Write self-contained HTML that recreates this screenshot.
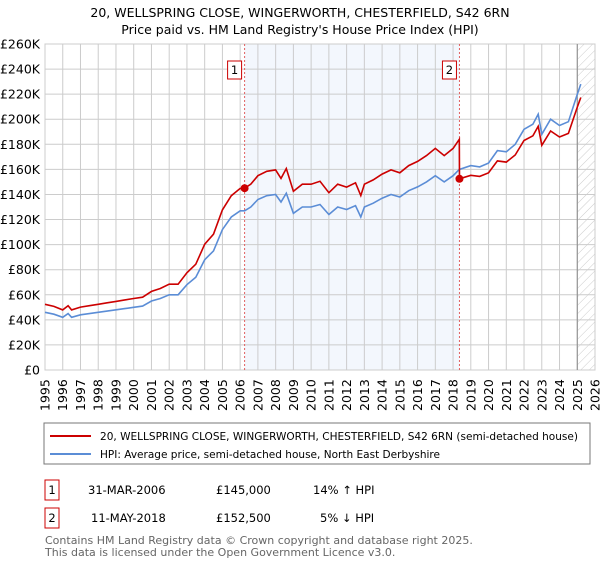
<!DOCTYPE html>
<html><head><meta charset="utf-8"><style>
body{margin:0;background:#fff;font-family:"Liberation Sans","DejaVu Sans",sans-serif;}
svg text{font-family:"DejaVu Sans","Liberation Sans",sans-serif;}
</style></head><body>
<svg id="chart" width="600" height="560" viewBox="0 0 600 560" xmlns="http://www.w3.org/2000/svg">
<defs><pattern id="hatch" width="6" height="6" patternUnits="userSpaceOnUse" patternTransform="rotate(45)"><line x1="0" y1="0" x2="0" y2="6" stroke="#ccc" stroke-width="1"/></pattern></defs>
<text x="300" y="17" text-anchor="middle" font-size="12.5" fill="#000">20, WELLSPRING CLOSE, WINGERWORTH, CHESTERFIELD, S42 6RN</text>
<text x="300" y="34" text-anchor="middle" font-size="12.5" fill="#000">Price paid vs. HM Land Registry's House Price Index (HPI)</text>
<g id="plot"></g>
<rect x="44" y="423" width="546" height="41" fill="#fff" stroke="#777"/>
<line x1="50" y1="436" x2="91" y2="436" stroke="#cc0000" stroke-width="2"/>
<text x="100" y="440" font-size="10.8" textLength="478" lengthAdjust="spacingAndGlyphs">20, WELLSPRING CLOSE, WINGERWORTH, CHESTERFIELD, S42 6RN (semi-detached house)</text>
<line x1="50" y1="454" x2="91" y2="454" stroke="#5b8dd6" stroke-width="2"/>
<text x="100" y="458" font-size="10.8" textLength="340" lengthAdjust="spacingAndGlyphs">HPI: Average price, semi-detached house, North East Derbyshire</text>
<g font-size="11.5">
<rect x="45" y="480" width="14" height="20" fill="#fff" stroke="#cc0000"/>
<text x="52" y="494" text-anchor="middle">1</text>
<text x="88" y="494">31-MAR-2006</text><text x="216" y="494">£145,000</text><text x="313" y="494">14% ↑ HPI</text>
<rect x="45" y="508" width="14" height="20" fill="#fff" stroke="#cc0000"/>
<text x="52" y="522" text-anchor="middle">2</text>
<text x="91" y="522">11-MAY-2018</text><text x="216" y="522">£152,500</text><text x="320" y="522">5% ↓ HPI</text>
</g>
<text x="45" y="544" font-size="11" fill="#666">Contains HM Land Registry data © Crown copyright and database right 2025.</text>
<text x="45" y="556" font-size="11" fill="#666">This data is licensed under the Open Government Licence v3.0.</text>
</svg>
<script>
const times=[1995.0,1995.5,1996.0,1996.3,1996.5,1997.0,1997.5,1998.0,1998.5,1999.0,1999.5,2000.0,2000.5,2001.0,2001.5,2002.0,2002.5,2003.0,2003.5,2004.0,2004.5,2005.0,2005.5,2006.0,2006.25,2006.6,2007.0,2007.5,2008.0,2008.3,2008.6,2009.0,2009.5,2010.0,2010.5,2011.0,2011.5,2012.0,2012.5,2012.8,2013.0,2013.5,2014.0,2014.5,2015.0,2015.5,2016.0,2016.5,2017.0,2017.5,2018.0,2018.35,2018.36,2019.0,2019.5,2020.0,2020.5,2021.0,2021.5,2022.0,2022.5,2022.8,2023.0,2023.5,2024.0,2024.5,2025.0,2025.2];
const hpiValues=[46,44.5,42,45,42,44,45,46,47,48,49,50,51,55,57,60,60,68,74,88,95,112,122,127,127,130,136,139,140,134,141,125,130,130,132,124,130,128,131,122,130,133,137,140,138,143,146,150,155,150,155,160,160,163,162,165,175,174,180,192,196,204,188,200,195,198,220,228];
const priceValues=[52.4,50.7,47.9,51.3,47.9,50.2,51.3,52.4,53.6,54.7,55.9,57,58.1,62.7,65,68.4,68.4,77.5,84.4,100.3,108.3,127.7,139,144.8,145,148.2,155,158.5,159.6,152.8,160.7,142.5,148.2,148.2,150.5,141.4,148.2,145.9,149.3,139.1,148.2,151.6,156.2,159.6,157.3,163,166.4,171,176.7,171,176.7,184,152.5,155.3,154.4,157.2,166.8,165.8,171.5,183,186.8,194.4,179.2,190.6,185.8,188.7,209.7,217.3];
const saleTimes=[2006.25,2018.36];
const saleValues=[145,152.5];
const saleLabels=["1","2"];
const yTicks=[0,20,40,60,80,100,120,140,160,180,200,220,240,260];
const xYears=[1995,1996,1997,1998,1999,2000,2001,2002,2003,2004,2005,2006,2007,2008,2009,2010,2011,2012,2013,2014,2015,2016,2017,2018,2019,2020,2021,2022,2023,2024,2025,2026];

const X0=45,X1=595,Y0=370,Y1=44;
const xs=t=>X0+(t-1995)/(2026-1995)*(X1-X0);
const ys=v=>Y0-v/260*(Y0-Y1);
const NS="http://www.w3.org/2000/svg";
const g=document.getElementById('plot');
function mk(tag,attrs){const e=document.createElementNS(NS,tag);for(const k in attrs)e.setAttribute(k,attrs[k]);g.appendChild(e);return e;}

let e=mk('rect',{x:xs(saleTimes[0]),y:Y1,width:xs(saleTimes[1])-xs(saleTimes[0]),height:Y0-Y1,fill:'#eef3fc',opacity:0.7});


e=mk('rect',{x:xs(2025.0),y:Y1,width:X1-xs(2025.0),height:Y0-Y1,fill:'url(#hatch)'});



yTicks.forEach(v=>{
 let l=mk('line',{x1:X0,x2:X1,y1:ys(v),y2:ys(v),stroke:'#ccc','stroke-width':1});
 
 
 let t=mk('text',{x:40,y:ys(v)+4.5,'text-anchor':'end','font-size':12.5});
 t.textContent=v===0?'£0':'£'+v+'K';
 
 
});
xYears.forEach(yr=>{
 let l=mk('line',{x1:xs(yr),x2:xs(yr),y1:Y1,y2:Y0,stroke:'#ccc','stroke-width':1});
 
 
 let t=mk('text',{x:0,y:0,'font-size':12.5,transform:`translate(${xs(yr)+4.5},${Y0+41}) rotate(-90)`});
 t.textContent=yr;
 
 
});
e=mk('rect',{x:X0,y:Y1,width:X1-X0,height:Y0-Y1,fill:'none',stroke:'#ccc'});


e=mk('line',{x1:xs(2025.0),x2:xs(2025.0),y1:Y1,y2:Y0,stroke:'#888','stroke-width':1});



saleTimes.forEach((t,i)=>{
 let l=mk('line',{x1:xs(t),x2:xs(t),y1:Y1,y2:Y0,stroke:'#e06060','stroke-width':1,'stroke-dasharray':'2,2'});
 
 
 let r=mk('rect',{x:xs(t)-17,y:61,width:14,height:18,fill:'#fff',stroke:'#cc0000'});
 
 
 let tx=mk('text',{x:xs(t)-10,y:74,'text-anchor':'middle','font-size':11.5});
 tx.textContent=saleLabels[i];
 
 
});

const path=(vals)=>times.map((t,i)=>(i?'L':'M')+xs(t).toFixed(1)+','+ys(vals[i]).toFixed(1)).join('');
e=mk('path',{d:path(hpiValues),fill:'none',stroke:'#5b8dd6','stroke-width':1.6});


e=mk('path',{d:path(priceValues),fill:'none',stroke:'#cc0000','stroke-width':1.6});


saleTimes.forEach((t,i)=>{
 let c=mk('circle',{cx:xs(t),cy:ys(saleValues[i]),r:4,fill:'#cc0000'});
 
 
});
</script>
</body></html>
